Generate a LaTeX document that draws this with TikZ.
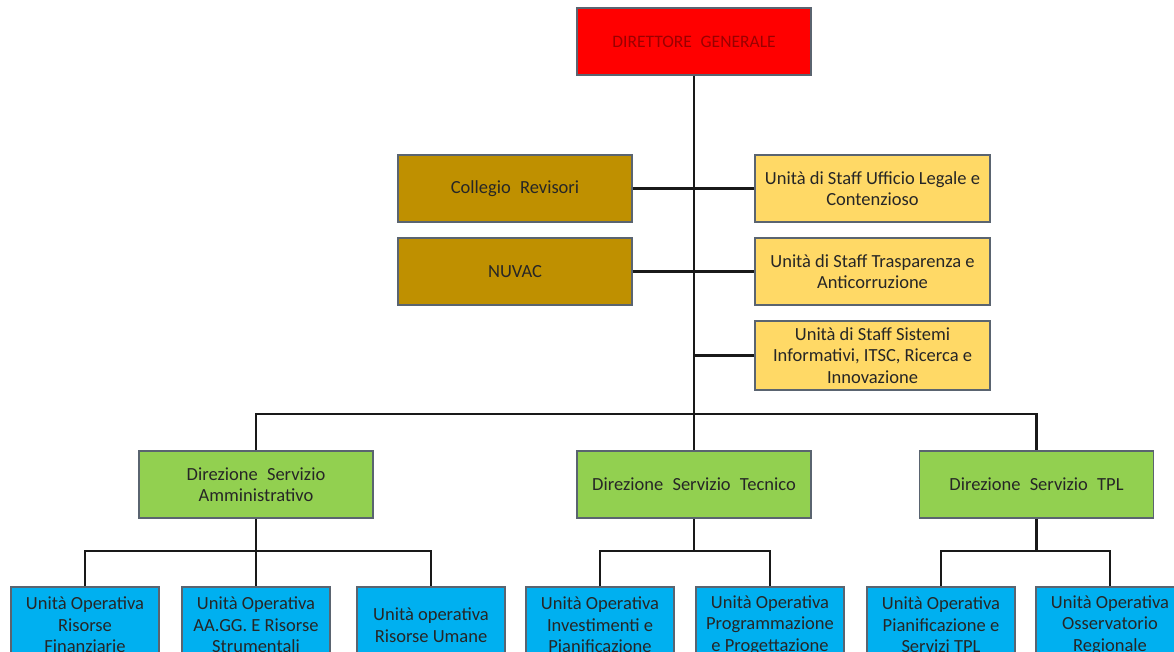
\documentclass[tikz,border=0pt]{standalone}
\usepackage{fontspec}
\setmainfont{Carlito}
\usepackage{tikz}

\definecolor{dgred}{HTML}{FF0000}
\definecolor{dgtext}{HTML}{9A0000}
\definecolor{gold}{HTML}{BF9000}
\definecolor{lightgold}{HTML}{FFD966}
\definecolor{dirgreen}{HTML}{92D050}
\definecolor{uoblue}{HTML}{00B0F0}
\definecolor{boxline}{HTML}{5A6470}

\begin{document}
\begin{tikzpicture}[x=1pt,y=-1pt,
    box/.style={draw=boxline, line width=1.2pt, align=center, inner sep=1pt,
                font=\fontsize{18.5}{21.5}\selectfont, text=black!85},
    topbox/.style={box, fill=dgred, minimum width=234, minimum height=67,
                   text=dgtext, font=\fontsize{17.5}{20}\selectfont},
    controlbox/.style={box, fill=gold, minimum width=234, minimum height=67},
    staffbox/.style={box, fill=lightgold, minimum width=235, minimum height=67},
    dirbox/.style={box, fill=dirgreen, minimum width=234, minimum height=67},
    unitbox/.style={box, fill=uoblue, minimum width=148, minimum height=76},
    link/.style={line width=2.2pt, black!90}]

  \useasboundingbox (0,0) rectangle (1174,651);
  \clip (0,0) rectangle (1174,651);

  % --- top ---------------------------------------------------------
  \node[topbox] (dg) at (694,41.5) {DIRETTORE\enspace GENERALE};

  % --- control bodies (left) and staff units (right) ---------------
  \node[controlbox] (collegio) at (515,188.5) {Collegio\enspace Revisori};
  \node[controlbox] (nuvac)    at (515,271.5) {NUVAC};

  \node[staffbox] (staff1) at (872.5,188.5) {Unità di Staff Ufficio Legale e\\Contenzioso};
  \node[staffbox] (staff2) at (872.5,271.5) {Unità di Staff Trasparenza e\\Anticorruzione};
  \node[staffbox, minimum height=69] (staff3) at (872.5,355.5)
        {Unità di Staff Sistemi\\Informativi, ITSC, Ricerca e\\Innovazione};

  % --- directions --------------------------------------------------
  \node[dirbox] (amm) at (256,484.5) {Direzione\enspace Servizio\\Amministrativo};
  \node[dirbox] (tec) at (694,484.5) {Direzione\enspace Servizio\enspace Tecnico};
  \node[dirbox] (tpl) at (1036.5,484.5) {Direzione\enspace Servizio\enspace TPL};

  % --- operating units ---------------------------------------------
  \node[unitbox] (uo1) at (85,625)   {Unità Operativa\\Risorse\\Finanziarie};
  \node[unitbox] (uo2) at (256,625)  {Unità Operativa\\AA.GG. E Risorse\\Strumentali};
  \node[unitbox] (uo3) at (431,625)  {Unità operativa\\Risorse Umane};
  \node[unitbox] (uo4) at (600,625)  {Unità Operativa\\Investimenti e\\Pianificazione};
  \node[unitbox] (uo5) at (770,625)  {Unità Operativa\\Programmazione\\e Progettazione};
  \node[unitbox] (uo6) at (941,625)  {Unità Operativa\\Pianificazione e\\Servizi TPL};
  \node[unitbox] (uo7) at (1110,625) {Unità Operativa\\Osservatorio\\Regionale};

  % --- connectors --------------------------------------------------
  \coordinate (bus) at (694,414);
  \coordinate (busL) at (256,551);
  \coordinate (busR) at (941,551);

  \draw[link] (dg.south) -- (bus);
  \draw[link] (collegio.east) -- (staff1.west);
  \draw[link] (nuvac.east) -- (staff2.west);
  \draw[link] (staff3.west) -- (staff3.west -| dg.south);

  \draw[link] (amm.north) |- (tpl.north |- bus) -- (tpl.north);
  \draw[link] (bus) -- (tec.north);

  \draw[link] (amm.south) -- (uo2.north);
  \draw[link] (uo1.north) |- (uo3.north |- busL) -- (uo3.north);
  \draw[link] (tec.south) -- (tec.south |- busL);
  \draw[link] (uo4.north) |- (uo5.north |- busL) -- (uo5.north);
  \draw[link] (tpl.south) -- (tpl.south |- busR);
  \draw[link] (uo6.north) |- (uo7.north |- busR) -- (uo7.north);

\end{tikzpicture}
\end{document}
